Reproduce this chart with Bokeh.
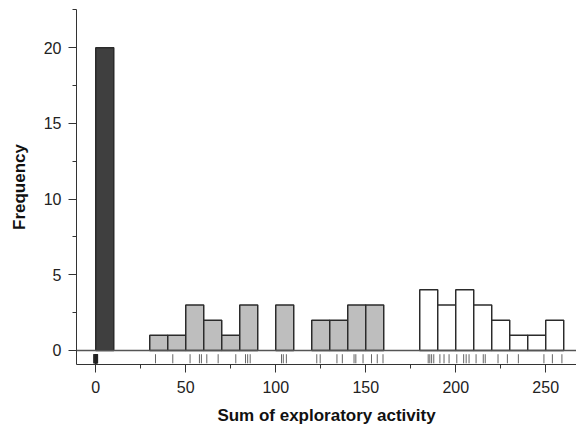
from bokeh.plotting import figure
from bokeh.models import Range1d, SingleIntervalTicker, Span
from bokeh.embed import file_html
from bokeh.resources import INLINE

# ---- data ----
bin_width = 10
dark_left = [0]
dark_counts = [20]
gray_left = [30, 40, 50, 60, 70, 80, 90, 100, 110, 120, 130, 140, 150]
gray_counts = [1, 1, 3, 2, 1, 3, 0, 3, 0, 2, 2, 3, 3]
white_left = [180, 190, 200, 210, 220, 230, 240, 250]
white_counts = [4, 3, 4, 3, 2, 1, 1, 2]

rug_dark = [0, 0, 0, 0, 0, 0, 0, 0, 0, 0, -1, -0.5, 0.5, 1, -1, 0.5, 1, -0.5, 0.3, -0.3]
rug_gray = [33.2, 42.8, 52.4, 57.6, 58.7, 61.7, 68.0, 77.8, 83.2, 84.4, 85.8,
            103.2, 104.2, 105.9, 122.8, 124.7, 134.0, 137.0, 143.5, 144.5, 148.5,
            153.2, 156.4, 159.6]
rug_white = [184.7, 185.6, 186.6, 187.8, 191.2, 193.5, 196.3, 200.6, 204.4, 205.8,
             207.4, 211.3, 215.3, 216.4, 223.5, 228.7, 234.8, 249.0, 253.7, 259.0]

x_ticks_major = 50
y_ticks_major = 5

FONT = "Liberation Sans"

p = figure(width=576, height=427, output_backend="svg", toolbar_location=None,
           x_range=Range1d(-10.7, 267.1), y_range=Range1d(-0.93, 22.52),
           min_border_left=76, min_border_right=0, min_border_top=9, min_border_bottom=10)
p.outline_line_color = None
p.xgrid.visible = False
p.ygrid.visible = False
p.background_fill_color = "white"
p.border_fill_color = "white"

def bars(lefts, counts, fill):
    L = [l for l, c in zip(lefts, counts) if c > 0]
    C = [c for c in counts if c > 0]
    R = [l + bin_width for l in L]
    p.quad(left=L, right=R, bottom=0, top=C, fill_color=fill,
           line_color="#2b2b2b", line_width=1.5)

baseline = Span(location=0, dimension="width", line_color="#555555", line_width=1.5)
p.add_layout(baseline)

bars(dark_left, dark_counts, "#3f3f3f")
bars(gray_left, gray_counts, "#bebebe")
bars(white_left, white_counts, "#ffffff")

rug = rug_dark + rug_gray + rug_white
p.segment(x0=rug, x1=rug, y0=-0.25, y1=-0.85, line_color="#666666", line_width=1)
p.segment(x0=rug_dark, x1=rug_dark, y0=-0.25, y1=-0.85, line_color="#222222", line_width=0.8)

for ax in (p.xaxis[0], p.yaxis[0]):
    ax.axis_line_color = "#333333"
    ax.axis_line_width = 1
    ax.major_tick_line_color = "#333333"
    ax.minor_tick_line_color = "#333333"
    ax.major_tick_in = 0
    ax.minor_tick_in = 0
    ax.major_tick_out = 8
    ax.minor_tick_out = 4
    ax.major_label_text_font = FONT
    ax.major_label_text_font_size = "16px"
    ax.major_label_text_color = "#222222"
    ax.axis_label_text_font = FONT
    ax.axis_label_text_font_size = "17px"
    ax.axis_label_text_font_style = "bold"
    ax.axis_label_text_color = "#111111"

p.xaxis[0].ticker = SingleIntervalTicker(interval=x_ticks_major, num_minor_ticks=2)
p.yaxis[0].ticker = SingleIntervalTicker(interval=y_ticks_major, num_minor_ticks=2)
p.xaxis[0].axis_label = "Sum of exploratory activity"
p.yaxis[0].axis_label = "Frequency"
p.xaxis[0].major_label_standoff = 8
p.xaxis[0].axis_label_standoff = 10
p.yaxis[0].major_label_standoff = 7
p.yaxis[0].axis_label_standoff = 12

open("out.html", "w").write(file_html(p, INLINE))
